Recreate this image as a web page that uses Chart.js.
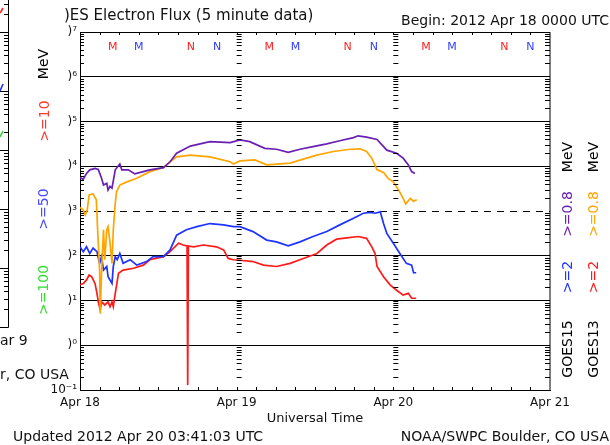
<!DOCTYPE html>
<html>
<head>
<meta charset="utf-8">
<script src="https://cdn.jsdelivr.net/npm/chart.js@4.4.0/dist/chart.umd.min.js"></script>
<style>
  html, body { margin: 0; padding: 0; background: #fff; }
  canvas { display: block; }
</style>
</head>
<body>
<canvas id="c" width="610" height="445"></canvas>
<script>
// hours after 2012 Apr 18 00 UT, and log10 of the flux
const hPurple = [0, 0.5, 1.0, 1.5, 2.3, 2.8, 3.3, 3.6, 4.1, 4.3, 4.6, 4.9, 5.4, 6.1, 6.4, 7.4, 8.4, 9.7, 10.7, 12.8, 13.8, 14.8, 16.9, 19.9, 23, 24.5, 26, 28.3, 30.1, 31.9, 33.7, 35.7, 37.8, 39.8, 41.9, 42.6, 43.9, 45.5, 47, 48.5, 49.5, 50.3, 50.8, 51.3];
const lPurple = [3.75, 3.71, 3.84, 3.92, 3.95, 3.93, 3.73, 3.58, 3.62, 3.47, 3.55, 3.51, 3.92, 4.05, 3.92, 3.92, 3.83, 3.88, 3.92, 3.97, 4.10, 4.29, 4.45, 4.55, 4.53, 4.59, 4.55, 4.40, 4.38, 4.31, 4.38, 4.44, 4.50, 4.57, 4.64, 4.68, 4.65, 4.60, 4.36, 4.29, 4.18, 4.03, 3.88, 3.84];

const hOrange = [0, 0.5, 0.8, 1.1, 1.4, 2.0, 2.5, 2.7, 3.0, 3.1, 3.3, 3.6, 3.8, 4.1, 4.3, 4.6, 4.9, 5.1, 5.4, 5.6, 6.1, 7.2, 8.7, 10.7, 12.8, 13.8, 14.8, 16.9, 19.9, 23, 23.5, 24.5, 26.8, 28.6, 32.2, 34.2, 36.3, 38.8, 41.4, 42.9, 43.9, 44.7, 45.5, 46.5, 47.2, 48, 48.8, 49.5, 49.9, 50.6, 51.1, 51.6];
const lOrange = [3.08, 3.02, 2.91, 3.02, 3.36, 3.38, 3.25, 2.58, 1.68, 0.71, 1.61, 2.58, 1.91, 2.58, 2.65, 2.28, 1.83, 2.58, 3.17, 3.43, 3.58, 3.65, 3.73, 3.88, 3.97, 4.10, 4.21, 4.25, 4.21, 4.10, 4.05, 4.12, 4.14, 4.03, 4.07, 4.16, 4.25, 4.33, 4.38, 4.39, 4.33, 4.18, 3.92, 3.86, 3.73, 3.65, 3.47, 3.28, 3.16, 3.28, 3.22, 3.25];

const hBlue = [0, 0.5, 1, 1.5, 2, 2.6, 3.0, 3.3, 3.6, 4.1, 4.3, 4.9, 5.1, 5.4, 5.7, 6.1, 6.6, 7.7, 8.7, 10.2, 11.2, 12.8, 13.8, 14.8, 16.3, 17.9, 19.9, 22, 23.5, 24.5, 26.5, 28.6, 30.1, 31.9, 33.7, 35.7, 37.8, 39.8, 41.9, 43.4, 44.4, 45.2, 46, 46.5, 47, 48, 49, 50, 50.8, 51.1, 51.5];
const lBlue = [2.20, 2.09, 2.20, 2.05, 2.17, 2.09, 1.83, 1.98, 1.68, 1.76, 1.53, 1.38, 1.76, 1.98, 1.91, 2.05, 1.83, 1.91, 1.79, 1.87, 1.98, 1.98, 2.13, 2.46, 2.58, 2.65, 2.72, 2.69, 2.65, 2.65, 2.54, 2.35, 2.31, 2.22, 2.31, 2.43, 2.54, 2.69, 2.84, 2.95, 2.97, 2.95, 2.98, 2.72, 2.50, 2.28, 2.05, 1.83, 1.79, 1.62, 1.62];

const hRed = [0, 0.5, 1, 1.4, 1.8, 2.3, 2.6, 2.8, 3.1, 3.3, 3.8, 4.3, 4.6, 4.9, 5.1, 5.4, 5.9, 6.6, 8.2, 9.7, 10.7, 12.8, 13.8, 15.1, 15.8, 16.4, 16.5, 16.6, 17.4, 18.9, 20.9, 22, 22.7, 23.5, 24.5, 26.5, 28.1, 30.1, 32.2, 34.2, 36.3, 37.8, 39.3, 40.9, 42.6, 43.9, 44.7, 45.2, 45.5, 46.5, 47.5, 48.5, 49.5, 50.3, 50.8, 51.5];
const lRed = [1.35, 1.38, 1.46, 1.57, 1.53, 1.38, 1.16, 0.97, 0.79, 0.97, 0.90, 0.97, 0.86, 0.97, 0.86, 1.16, 1.61, 1.68, 1.72, 1.79, 1.91, 1.98, 2.09, 2.28, 2.24, 2.22, -0.89, 2.22, 2.20, 2.24, 2.20, 2.13, 1.94, 1.91, 1.90, 1.87, 1.79, 1.76, 1.83, 1.94, 2.05, 2.24, 2.37, 2.40, 2.43, 2.39, 2.20, 2.05, 1.76, 1.53, 1.35, 1.23, 1.12, 1.16, 1.05, 1.05];

const dayLabels = ['Apr 18', 'Apr 19', 'Apr 20', 'Apr 21'];
const decades = [7, 6, 5, 4, 3, 2, 1, 0, -1];
const yLabels = [')\u2077', ')\u2076', ')\u2075', ')\u2074', ')\u00b3', ')\u00b2', ')\u00b9', ')\u2070', '10\u207b\u00b9'];

// local noon (M) / midnight (N) markers, GOES13 red and GOES15 blue
const markHours = [5, 9, 17, 21, 29, 33, 41, 45, 53, 57, 65, 69];
const markText = ['M', 'M', 'N', 'N', 'M', 'M', 'N', 'N', 'M', 'M', 'N', 'N'];
const markColor = ['#ff2020', '#3040ff', '#ff2020', '#3040ff', '#ff2020', '#3040ff', '#ff2020', '#3040ff', '#ff2020', '#3040ff', '#ff2020', '#3040ff'];

const FONT = '"DejaVu Sans", sans-serif';

function series(hours, logs, color) {
    return {
        data: hours.map((h, i) => ({ x: h, y: Math.pow(10, logs[i]) })),
        borderColor: color,
        borderWidth: 1.7,
        pointRadius: 0,
        tension: 0,
        fill: false
    };
}

function rotText(ctx, txt, x, y, color) {
    ctx.save();
    ctx.translate(x, y);
    ctx.rotate(-Math.PI / 2);
    ctx.fillStyle = color;
    ctx.textAlign = 'center';
    ctx.textBaseline = 'middle';
    ctx.fillText(txt, 0, 0);
    ctx.restore();
}

const decor = {
    id: 'decor',
    afterDraw(chart) {
        const { ctx, chartArea: a } = chart;
        const x = chart.scales.x, y = chart.scales.y;
        ctx.save();
        ctx.strokeStyle = '#000';
        ctx.lineWidth = 1;

        // right frame line
        ctx.beginPath();
        ctx.moveTo(a.right, a.top);
        ctx.lineTo(a.right, a.bottom);
        ctx.stroke();

        // minor log ticks: left axis, right axis and the day columns
        const cols = [x.getPixelForValue(24), x.getPixelForValue(48)];
        ctx.beginPath();
        for (let e = -1; e < 7; e++) {
            for (let m = 1; m <= 9; m++) {
                const py = Math.round(y.getPixelForValue(m * Math.pow(10, e))) + 0.5;
                if (m > 1) {
                    ctx.moveTo(a.left, py); ctx.lineTo(a.left + 4, py);
                    ctx.moveTo(a.right - 5, py); ctx.lineTo(a.right, py);
                }
                cols.forEach(cx => { ctx.moveTo(cx, py); ctx.lineTo(cx + 5, py); });
            }
        }
        // 3-hour ticks on top and bottom
        for (let h = 3; h < 72; h += 3) {
            const px = Math.round(x.getPixelForValue(h)) + 0.5;
            ctx.moveTo(px, a.top); ctx.lineTo(px, a.top + 3);
            ctx.moveTo(px, a.bottom); ctx.lineTo(px, a.bottom - 3);
        }
        ctx.stroke();

        // M / N markers
        ctx.font = '11px ' + FONT;
        ctx.textAlign = 'center';
        ctx.textBaseline = 'middle';
        markHours.forEach((h, i) => {
            ctx.fillStyle = markColor[i];
            ctx.fillText(markText[i], x.getPixelForValue(h), 47);
        });

        // titles
        ctx.fillStyle = '#111';
        ctx.font = '15px ' + FONT;
        ctx.textAlign = 'left';
        ctx.fillText(')ES Electron Flux (5 minute data)', 64, 16);
        ctx.font = '14px ' + FONT;
        ctx.textAlign = 'right';
        ctx.fillText('Begin: 2012 Apr 18 0000 UTC', 609, 21);
        ctx.fillText('NOAA/SWPC Boulder, CO USA', 609, 437);
        ctx.textAlign = 'left';
        ctx.fillText('Updated 2012 Apr 20 03:41:03 UTC', 13, 437);

        // right-hand legend
        ctx.font = '14px ' + FONT;
        rotText(ctx, 'MeV', 568, 157, '#000');
        rotText(ctx, '>=0.8', 568, 214, '#6a1fb4');
        rotText(ctx, '>=2', 568, 277, '#1f33ff');
        rotText(ctx, 'GOES15', 568, 349, '#000');
        rotText(ctx, 'MeV', 594, 157, '#000');
        rotText(ctx, '>=0.8', 594, 214, '#ffa500');
        rotText(ctx, '>=2', 594, 277, '#ff1a1a');
        rotText(ctx, 'GOES13', 594, 349, '#000');

        // leftover of the neighbouring proton panel
        rotText(ctx, 'MeV', 44, 64, '#000');
        rotText(ctx, '>=10', 45, 121, '#ff3a2a');
        rotText(ctx, '>=50', 44, 209, '#4a4aff');
        rotText(ctx, '>=100', 44, 290, '#33dd33');
        ctx.textAlign = 'left';
        ctx.fillStyle = '#111';
        ctx.fillText('ar 9', 0, 341);
        ctx.fillText('r, CO USA', 0, 375);

        ctx.beginPath();
        ctx.moveTo(8.5, 0); ctx.lineTo(8.5, 327.5); ctx.lineTo(0, 327.5);
        for (let k = 0; k < 6; k++) {
            const yd = 327 - k * 59;
            ctx.moveTo(0, yd + 0.5); ctx.lineTo(8, yd + 0.5);
            for (let m = 2; m <= 9; m++) {
                const ym = Math.round(yd - Math.log10(m) * 59) + 0.5;
                if (ym < 0) continue;
                ctx.moveTo(4, ym); ctx.lineTo(8, ym);
            }
        }
        ctx.stroke();
        ctx.lineWidth = 1.6;
        ctx.strokeStyle = '#ff2020';
        ctx.beginPath(); ctx.moveTo(0, 13); ctx.lineTo(3, 8); ctx.stroke();
        ctx.strokeStyle = '#2030ff';
        ctx.beginPath(); ctx.moveTo(0, 91); ctx.lineTo(3, 84); ctx.stroke();
        ctx.strokeStyle = '#30cc30';
        ctx.beginPath(); ctx.moveTo(0, 137); ctx.lineTo(3, 131); ctx.stroke();

        ctx.restore();
    }
};

new Chart(document.getElementById('c'), {
    type: 'line',
    data: {
        datasets: [
            series(hPurple, lPurple, '#6a1fb4'),
            series(hOrange, lOrange, '#ffa500'),
            series(hBlue, lBlue, '#1f33ff'),
            series(hRed, lRed, '#ff1a1a')
        ]
    },
    options: {
        responsive: false,
        animation: false,
        layout: { padding: { top: 32, right: 60, left: 0, bottom: 0 } },
        plugins: { legend: { display: false }, tooltip: { enabled: false } },
        scales: {
            x: {
                type: 'linear',
                min: 0,
                max: 72,
                afterFit: s => { s.height = 55; },
                grid: { display: false, drawTicks: false },
                border: { display: true, color: '#000', width: 1 },
                ticks: {
                    stepSize: 24,
                    autoSkip: false,
                    maxRotation: 0,
                    padding: 6,
                    color: '#111',
                    font: { family: FONT, size: 12 },
                    callback: v => dayLabels[v / 24]
                },
                title: {
                    display: true,
                    text: 'Universal Time',
                    color: '#111',
                    font: { family: FONT, size: 13 },
                    padding: { top: 0, bottom: 19 }
                }
            },
            y: {
                type: 'logarithmic',
                min: 0.1,
                max: 1e7,
                afterFit: s => { s.width = 80; },
                afterBuildTicks: s => { s.ticks = decades.map(e => ({ value: Math.pow(10, e) })); },
                grid: { color: '#000', lineWidth: 1, drawTicks: false },
                border: {
                    display: true,
                    color: '#000',
                    dash: c => (c.tick && c.tick.value === 1000) ? [7, 6] : []
                },
                ticks: {
                    autoSkip: false,
                    padding: 3,
                    color: '#111',
                    font: { family: FONT, size: 12 },
                    callback: (v, i) => yLabels[i]
                }
            }
        }
    },
    plugins: [decor]
});
</script>
</body>
</html>
